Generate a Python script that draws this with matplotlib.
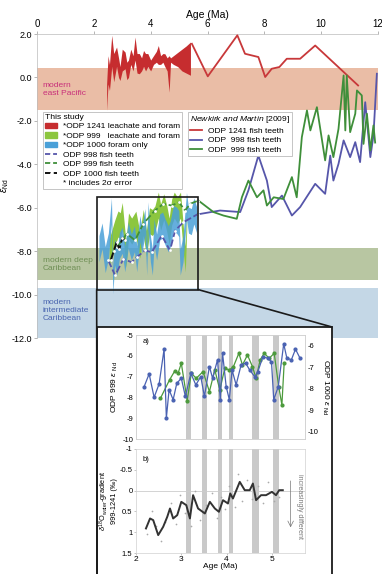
import matplotlib
matplotlib.use("Agg")
import matplotlib.pyplot as plt
from matplotlib.patches import Rectangle, Patch, ConnectionPatch
from matplotlib.lines import Line2D
import numpy as np

plt.rcParams['font.family'] = ['Liberation Sans', 'DejaVu Sans']
plt.rcParams['mathtext.fontset'] = 'custom'
plt.rcParams['mathtext.rm'] = 'Liberation Sans'
plt.rcParams['mathtext.it'] = 'Liberation Sans:italic'

# ---------------- data ----------------
# ODP 1241 leachate and foram (2 sigma envelope)
red_age = [2.45, 2.5, 2.55, 2.63, 2.7, 2.8, 2.87, 2.92, 3.0, 3.1, 3.16, 3.22, 3.3, 3.38, 3.45, 3.52,
           3.6, 3.68, 3.75, 3.82, 3.9, 4.0, 4.1, 4.2, 4.27, 4.35, 4.43, 4.5, 4.58, 4.65, 4.7, 4.8,
           4.95, 5.1, 5.25, 5.4]
red_hi = [-0.3, 1.0, 0.6, 1.94, 1.1, 1.4, 0.9, 0.5, 1.3, 1.17, 0.7, 0.8, 1.3, 1.0, 1.86, 1.1,
          1.1, 0.9, 1.24, 1.1, 1.1, 0.8, 1.0, 1.2, 1.47, 1.0, 1.1, 1.09, 0.9, 1.0, 0.9, 1.0,
          1.15, 1.3, 1.45, 1.63]
red_lo = [-1.52, -0.3, -0.6, 0.5, -0.2, 0.5, 0.0, -0.14, 0.3, 0.4, -0.1, 0.0, 0.6, 0.3, 0.8, 0.2,
          0.17, 0.3, 0.5, 0.3, 0.5, 0.3, 0.6, 0.7, 0.6, 0.6, 0.7, 0.5, 0.3, -0.68, 0.7, 0.6,
          0.5, 0.3, 0.2, 0.1]

# ODP 1000 foram only (panel a, right axis) and ODP 999 leachate & foram (panel a, left axis)
b1000_age = [2.18, 2.29, 2.40, 2.51, 2.62, 2.67, 2.73, 2.82, 2.90, 3.0, 3.09, 3.21, 3.32, 3.43,
             3.51, 3.62, 3.69, 3.80, 3.86, 3.91, 3.99, 4.06, 4.12, 4.21, 4.32, 4.42, 4.51, 4.62,
             4.69, 4.80, 4.91, 4.99, 5.04, 5.14, 5.26, 5.33, 5.43, 5.52, 5.62]
b1000_end = [-7.89, -7.30, -8.39, -7.77, -6.15, -9.36, -8.04, -8.5, -7.74, -7.5, -8.35, -7.27,
             -7.81, -7.43, -8.35, -6.96, -7.5, -6.64, -8.5, -6.33, -7.89, -8.5, -7.12, -7.81,
             -6.88, -6.8, -7.12, -7.43, -7.2, -6.5, -6.57, -6.73, -8.5, -7.89, -5.9, -6.57,
             -6.64, -6.15, -6.57]
g999_age = [2.54, 2.74, 2.85, 2.93, 3.0, 3.13, 3.22, 3.33, 3.48, 3.62, 3.74, 3.85, 3.96, 4.06,
            4.15, 4.27, 4.35, 4.46, 4.57, 4.65, 4.74, 4.83, 4.94, 5.05, 5.15, 5.22, 5.27]
g999_end = [-8.04, -7.16, -6.75, -6.83, -6.36, -8.15, -6.84, -7.08, -6.76, -7.72, -6.68, -7.64,
            -6.6, -6.68, -6.52, -5.88, -6.44, -5.96, -6.52, -7.08, -6.2, -5.88, -6.12, -5.88,
            -7.48, -8.36, -6.36]
err_2s = 0.6

# This study fish teeth
ft998_age = [2.51, 2.75, 3.04, 3.33, 3.51, 3.80, 4.04, 4.39, 4.68, 4.86, 5.15, 5.68]
ft998_end = [-8.43, -9.12, -8.36, -8.51, -8.28, -7.97, -8.05, -7.28, -7.97, -7.05, -6.67, -6.28]
ft999_age = [2.81, 3.16, 3.45, 3.74, 4.15, 4.45, 4.74, 5.0, 5.21, 5.39, 5.68]
ft999_end = [-7.82, -7.2, -7.5, -6.74, -6.13, -5.82, -5.9, -5.75, -6.13, -5.82, -5.67]
ft1000_age = [2.6, 2.7, 2.8, 2.9, 3.0, 3.1]
ft1000_end = [-8.4, -8.0, -7.6, -7.9, -7.4, -7.5]

# Newkirk and Martin [2009]
nm1241_age = [5.45, 6.01, 7.05, 7.32, 7.79, 8.03, 8.26, 8.53, 8.79, 9.26, 9.79, 11.3]
nm1241_end = [1.55, 0.05, 1.94, 1.09, 0.94, 0.02, 0.40, 0.48, 0.86, 0.86, 1.47, -0.37]
nm998_age = [5.68, 6.44, 7.15, 7.44, 7.79, 8.09, 8.26, 8.62, 8.97, 9.26, 9.79, 10.14, 10.32,
             10.43, 10.61, 10.79, 11.02, 11.2, 11.37, 11.55, 11.73, 11.84, 11.96]
nm998_end = [-6.3, -6.13, -6.2, -5.2, -3.6, -4.75, -5.97, -5.44, -6.36, -5.97, -4.9, -5.36, -3.6,
             -4.75, -3.98, -2.9, -3.67, -2.98, -3.9, -1.14, -3.67, -2.67, 0.17]
nm999_age = [5.68, 6.21, 6.56, 7.03, 7.21, 7.44, 7.74, 7.97, 8.09, 8.33, 8.67, 8.97, 9.14, 9.32,
             9.5, 9.62, 9.85, 10.14, 10.26, 10.43, 10.61, 10.79, 10.85, 10.9, 11.02, 11.2,
             11.26, 11.43, 11.49, 11.61, 11.73, 11.84, 11.9]
nm999_end = [-5.67, -6.2, -6.36, -6.51, -5.52, -4.75, -5.52, -5.2, -5.9, -5.52, -5.6, -4.59,
             -5.52, -2.75, -1.52, -2.44, -1.37, -3.82, -2.67, -3.67, -2.37, 0.09, -2.44, 0.09,
             -2.52, -1.67, -0.6, -0.83, -3.06, -1.67, -3.36, -2.21, -3.0]

# modern water-mass bands (eNd ranges)
band_names = ["modern\neast Pacific", "modern deep\nCaribbean", "modern\nintermediate\nCaribbean"]
band_lo = [-1.52, -9.35, -12.0]
band_hi = [0.43, -7.85, -9.69]

# panel b: d18O water gradient 999-1241
grad_age = [2.22, 2.31, 2.38, 2.49, 2.60, 2.69, 2.75, 2.82, 2.91, 3.0, 3.11, 3.19, 3.26, 3.37,
            3.52, 3.63, 3.74, 3.83, 3.92, 4.03, 4.08, 4.14, 4.29, 4.40, 4.51, 4.58, 4.65, 4.76,
            4.87, 5.0, 5.09, 5.16, 5.24]
grad_val = [0.91, 0.67, 0.71, 1.07, 0.87, 0.63, 0.43, 0.67, 0.59, 0.27, 0.35, 0.67, 0.11, 0.43,
            0.55, 0.27, 0.43, 0.51, 0.23, 0.31, 0.07, 0.19, -0.21, -0.01, -0.01, -0.17, 0.23,
            0.11, 0.11, 0.03, 0.11, -0.01, -0.01]
grad_raw_age = [2.25, 2.35, 2.45, 2.55, 2.65, 2.78, 2.88, 2.98, 3.08, 3.22, 3.3, 3.42, 3.55, 3.68,
                3.78, 3.88, 3.97, 4.05, 4.18, 4.25, 4.35, 4.45, 4.55, 4.7, 4.8, 4.92, 5.05, 5.15]
grad_raw_val = [1.05, 0.5, 0.85, 1.2, 0.75, 0.3, 0.8, 0.1, 0.55, 0.85, 0.0, 0.7, 0.35, 0.05,
                0.65, 0.15, 0.45, -0.1, 0.4, -0.4, 0.25, -0.25, 0.2, -0.1, 0.3, -0.2, 0.25, 0.15]

# climate events (grey bars)
bar_start = [3.11, 3.46, 3.82, 4.05, 4.56, 5.02]
bar_end = [3.21, 3.57, 3.90, 4.14, 4.72, 5.15]

# ---------------- styling ----------------
C_RED = '#c62d2f'
C_REDLINE = '#c8383a'
C_GREEN = '#8cc63f'
C_BLUE = '#4aa0d8'
C_PURPLE = '#5656aa'
C_DGREEN = '#3f8f3a'
BAND_COLORS = ['#eabda6', '#b8c6a2', '#c4d7e6']
BAND_TEXT = ['#c8307a', '#6f8f55', '#4a66b0']

W, H = 382, 574
fig = plt.figure(figsize=(W / 100, H / 100), dpi=100)


def px_axes(l, t, r, b, **kw):
    return fig.add_axes([l / W, 1 - b / H, (r - l) / W, (b - t) / H], **kw)


# ---------- main axes ----------
ax = px_axes(37, 34, 378, 338)
ax.set_zorder(0)
ax.set_xlim(0, 12)
ax.set_ylim(-12, 2)
for lo, hi, c in zip(band_lo, band_hi, BAND_COLORS):
    ax.axhspan(lo, hi, color=c, lw=0, zorder=0)
ax.text(0.2, -0.55, band_names[0], color=BAND_TEXT[0], fontsize=6, va='center', ha='left')
ax.text(0.2, -8.6, band_names[1], color=BAND_TEXT[1], fontsize=6, va='center', ha='left')
ax.text(0.2, -10.75, band_names[2], color=BAND_TEXT[2], fontsize=6, va='center', ha='left')

ax.fill_between(red_age, red_lo, red_hi, color=C_RED, lw=0, zorder=2)
g_a = np.array(g999_end)
b_a = np.array(b1000_end)
ax.fill_between(g999_age, g_a - err_2s, g_a + err_2s, color=C_GREEN, lw=0, zorder=2)
ax.fill_between(b1000_age, b_a - err_2s, b_a + err_2s, color=C_BLUE, lw=0, zorder=2, alpha=0.85)

ax.plot(nm1241_age, nm1241_end, color=C_REDLINE, lw=1.3, zorder=3)
ax.plot(nm998_age, nm998_end, color=C_PURPLE, lw=1.3, zorder=3)
ax.plot(nm999_age, nm999_end, color=C_DGREEN, lw=1.3, zorder=3)

ax.plot(ft999_age, ft999_end, color=C_DGREEN, lw=1.3, ls=(0, (4, 1.5)), marker='o', ms=2.0,
        mfc='white', mec='none', zorder=4)
ax.plot(ft998_age, ft998_end, color=C_PURPLE, lw=1.3, ls=(0, (4, 1.5)), marker='o', ms=2.0,
        mfc='white', mec='none', zorder=4)
ax.plot(ft1000_age, ft1000_end, color='#111111', lw=1.4, ls=(0, (4, 1.5)), marker='o', ms=2.0,
        mfc='white', mec='none', zorder=4)

ax.add_patch(Rectangle((2.1, -9.77), 3.57, 4.27, fill=False, ec='#1a1a1a', lw=1.2, zorder=5))

ax.xaxis.tick_top()
ax.xaxis.set_label_position('top')
ax.set_xticks([0, 2, 4, 6, 8, 10, 12])
ax.set_xticklabels(['0', '2', '4', '6', '8', '10', '12'], fontsize=7)
ax.set_xlabel('Age (Ma)', fontsize=7.5, labelpad=1)
ax.set_yticks([2, 0, -2, -4, -6, -8, -10, -12])
ax.set_yticklabels(['2.0', '0.0', '-2.0', '-4.0', '-6.0', '-8.0', '-10.0', '-12.0'], fontsize=6.5)
ax.set_ylabel(r'$\epsilon_{\mathrm{Nd}}$', fontsize=7)
ax.yaxis.set_label_coords(-26 / 341, 0.5)
ax.tick_params(axis='both', length=2.5, width=0.5, color='#999999', pad=1)
for s in ['right', 'bottom']:
    ax.spines[s].set_visible(False)
for s in ['top', 'left']:
    ax.spines[s].set_color('#bbbbbb')
    ax.spines[s].set_linewidth(0.5)

# legends
h1 = [Patch(color=C_RED), Patch(color=C_GREEN), Patch(color=C_BLUE),
      Line2D([], [], color=C_PURPLE, ls=(0, (3, 1.5)), lw=1.3, marker='o', ms=1.8, mfc='white', mec='none'),
      Line2D([], [], color=C_DGREEN, ls=(0, (3, 1.5)), lw=1.3, marker='o', ms=1.8, mfc='white', mec='none'),
      Line2D([], [], color='#111111', ls=(0, (3, 1.5)), lw=1.4, marker='o', ms=1.8, mfc='white', mec='none'),
      Line2D([], [], color='none')]
l1 = ['*ODP 1241 leachate and foram', '*ODP 999   leachate and foram', '*ODP 1000 foram only',
      'ODP 998 fish teeth', 'ODP 999 fish teeth', 'ODP 1000 fish teeth', '* includes 2\u03c3 error']
leg1 = ax.legend(h1, l1, title='This study', loc='upper left',
                 bbox_to_anchor=(43 / W, 1 - 112 / H), bbox_transform=fig.transFigure,
                 fontsize=6, title_fontsize=6.1, frameon=True, fancybox=False,
                 edgecolor='#bbbbbb', framealpha=1, handlelength=1.4, handleheight=0.6,
                 labelspacing=0.22, borderpad=0.25, handletextpad=0.7, borderaxespad=0)
leg1._legend_box.align = 'left'
leg1.get_frame().set_linewidth(0.6)
leg1.set_zorder(6)
ax.add_artist(leg1)

h2 = [Line2D([], [], color=C_REDLINE, lw=1.3), Line2D([], [], color=C_PURPLE, lw=1.3),
      Line2D([], [], color=C_DGREEN, lw=1.3)]
l2 = ['ODP 1241 fish teeth', 'ODP  998 fish teeth', 'ODP  999 fish teeth']
leg2 = ax.legend(h2, l2, title=r'$\it{Newkirk\ and\ Martin}$ [2009]', loc='upper left',
                 bbox_to_anchor=(188 / W, 1 - 112 / H), bbox_transform=fig.transFigure,
                 fontsize=6, title_fontsize=6.1, frameon=True, fancybox=False,
                 edgecolor='#bbbbbb', framealpha=1, handlelength=1.4,
                 labelspacing=0.22, borderpad=0.25, handletextpad=0.7, borderaxespad=0)
leg2._legend_box.align = 'left'
leg2.get_frame().set_linewidth(0.6)
leg2.set_zorder(6)

# ---------- overlay (zoom box) ----------
ov = px_axes(0, 0, W, H)
ov.set_zorder(1)
ov.set_xlim(0, W)
ov.set_ylim(H, 0)
ov.axis('off')
ov.patch.set_visible(False)
ov.add_patch(Rectangle((97, 327), 235, 250, fc='white', ec='#1a1a1a', lw=1.3))
for pA, pB in [((2.1, -9.77), (97, 574)), ((5.67, -9.77), (332, 327))]:
    cp = ConnectionPatch(xyA=pA, coordsA=ax.transData, xyB=pB, coordsB=ov.transData,
                         color='#1a1a1a', lw=1.2)
    ov.add_artist(cp)

# ---------- panel a ----------
pa = px_axes(136, 335, 305, 439)
pa.set_zorder(2)
pa.set_xlim(2, 5.73)
pa.set_ylim(-10, -5)
for s0, s1 in zip(bar_start, bar_end):
    pa.axvspan(s0, s1, color='#c9c9c9', lw=0, zorder=0)
pa.plot(g999_age, g999_end, color='#4c9a3c', lw=0.9, marker='o', ms=2.0, zorder=3)
pa.set_yticks([-5, -6, -7, -8, -9, -10])
pa.set_yticklabels(['-5', '-6', '-7', '-8', '-9', '-10'], fontsize=5.5)
pa.set_xticks([])
pa.set_ylabel(r'ODP 999 $\epsilon$ $_{\mathrm{Nd}}$', fontsize=6, labelpad=2)
pa.text(0.04, 0.97, 'a)', transform=pa.transAxes, fontsize=5.5, va='top')
pr = pa.twinx()
pr.set_zorder(3)
pr.set_ylim(-10.33, -5.49)
pr.plot(b1000_age, b1000_end, color='#4a62b2', lw=0.9, marker='o', ms=2.0, zorder=3)
pr.set_yticks([-6, -7, -8, -9, -10])
pr.set_yticklabels(['-6', '-7', '-8', '-9', '-10'], fontsize=5.5)
pr.set_ylabel(r'ODP 1000 $\epsilon$ $_{\mathrm{Nd}}$', fontsize=6, rotation=270, labelpad=8)
for a_ in (pa, pr):
    a_.tick_params(length=0, pad=2)
    for s in a_.spines.values():
        s.set_color('#d0d0d0')
        s.set_linewidth(0.5)

# ---------- panel b ----------
pb = px_axes(136, 449, 305, 553)
pb.set_zorder(2)
pb.set_xlim(2, 5.73)
pb.set_ylim(1.5, -1)
for s0, s1 in zip(bar_start, bar_end):
    pb.axvspan(s0, s1, color='#c9c9c9', lw=0, zorder=0)
pb.axhline(0, color='#cccccc', lw=0.6, zorder=1)
pb.scatter(grad_raw_age, grad_raw_val, s=1.5, color='#aaaaaa', lw=0, zorder=2)
pb.plot(grad_age, grad_val, color='#333333', lw=1.4, zorder=3)
pb.set_xticks([2, 3, 4, 5])
pb.set_xticklabels(['2', '3', '4', '5'], fontsize=6)
pb.set_yticks([-1, -0.5, 0, 0.5, 1, 1.5])
pb.set_yticklabels(['-1', '-0.5', '0', '0.5', '1', '1.5'], fontsize=5.5)
pb.set_xlabel('Age (Ma)', fontsize=6, labelpad=0)
pb.set_ylabel('$\\delta^{18}$O$_{\\mathrm{water}}$-gradient\n999-1241 (\u2030)', fontsize=5.3,
              linespacing=1.05)
pb.yaxis.set_label_coords(-0.105, 0.5)
pb.text(0.04, 0.93, 'b)', transform=pb.transAxes, fontsize=5.5, va='top')
pb.text(0.965, 0.45, 'increasingly different', transform=pb.transAxes, rotation=270,
        fontsize=5, color='#777777', ha='center', va='center')
pb.annotate('', xy=(0.915, 0.22), xytext=(0.915, 0.72), xycoords='axes fraction',
            arrowprops=dict(arrowstyle='->', color='#777777', lw=0.5))
pb.tick_params(length=1.5, width=0.4, pad=1, color='#999999')
for s in pb.spines.values():
    s.set_color('#d0d0d0')
    s.set_linewidth(0.5)

fig.savefig('out.png', dpi=100)
